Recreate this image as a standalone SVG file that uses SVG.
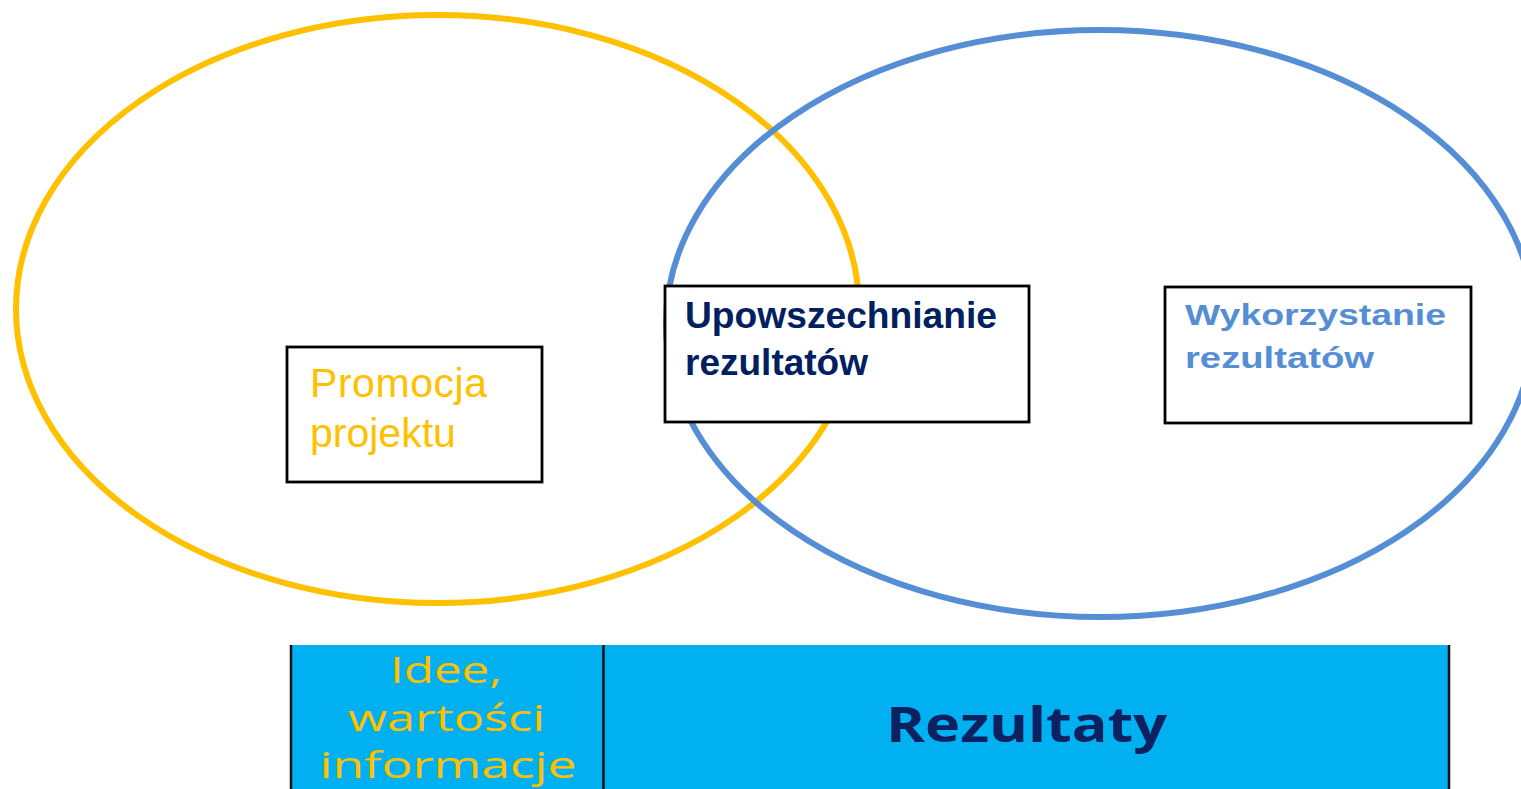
<svg xmlns="http://www.w3.org/2000/svg" width="1521" height="789" viewBox="0 0 1521 789">
<style>
.ell{fill:none;stroke-width:6}
.box{fill:#fff;stroke:#000;stroke-width:2.8}
.sans{font-family:"Liberation Sans",Arial,sans-serif}
.bold{font-weight:bold}
.bar{font-family:"Open Sans","DejaVu Sans",sans-serif;text-anchor:middle}
.vline{stroke:#111;stroke-width:2.5}
</style>
<rect width="1521" height="789" fill="#fff"/>
<g id="ellipse-promocja">
<ellipse class="ell" cx="437.5" cy="309" rx="421.5" ry="294" stroke="#FFC000"/>
</g>
<g id="ellipse-wykorzystanie">
<ellipse class="ell" cx="1100" cy="323.5" rx="434" ry="293.5" stroke="#558ED5"/>
</g>
<g id="node-promocja">
<rect class="box" x="287" y="347" width="255" height="135"/>
<text class="sans" font-size="41" fill="#FFC000"><tspan x="310" y="397" textLength="177">Promocja</tspan><tspan x="310" y="447">projektu</tspan></text>
</g>
<g id="node-upowszechnianie">
<rect class="box" x="665" y="286" width="364" height="136"/>
<text class="sans bold" font-size="36" fill="#002060"><tspan x="685" y="328" textLength="312" lengthAdjust="spacingAndGlyphs">Upowszechnianie</tspan><tspan x="685" y="375" textLength="183" lengthAdjust="spacingAndGlyphs">rezultatów</tspan></text>
</g>
<g id="node-wykorzystanie">
<rect class="box" x="1165" y="287" width="306" height="136"/>
<text class="sans bold" font-size="30" fill="#558ED5"><tspan x="1185" y="325" textLength="261" lengthAdjust="spacingAndGlyphs">Wykorzystanie</tspan><tspan x="1185" y="368" textLength="189" lengthAdjust="spacingAndGlyphs">rezultatów</tspan></text>
</g>
<g id="node-bar">
<rect x="291" y="645" width="1158" height="150" fill="#00B0F0"/>
<line class="vline" x1="291" y1="645" x2="291" y2="789"/>
<line class="vline" x1="603.5" y1="645" x2="603.5" y2="789"/>
<line class="vline" x1="1449" y1="645" x2="1449" y2="789" stroke-width="2"/>
</g>
<g id="node-idee">
<text class="bar" font-size="37" fill="#FFC000"><tspan x="446" y="683" textLength="112" lengthAdjust="spacingAndGlyphs">Idee,</tspan><tspan x="446.5" y="731" textLength="197" lengthAdjust="spacingAndGlyphs">wartości</tspan><tspan x="448" y="778" textLength="257" lengthAdjust="spacingAndGlyphs">informacje</tspan></text>
</g>
<g id="node-rezultaty">
<text class="bar" font-size="48" font-weight="bold" fill="#0B2160" x="1026.5" y="742" textLength="281" lengthAdjust="spacingAndGlyphs">Rezultaty</text>
</g>
<g id="connectors"></g>
</svg>
